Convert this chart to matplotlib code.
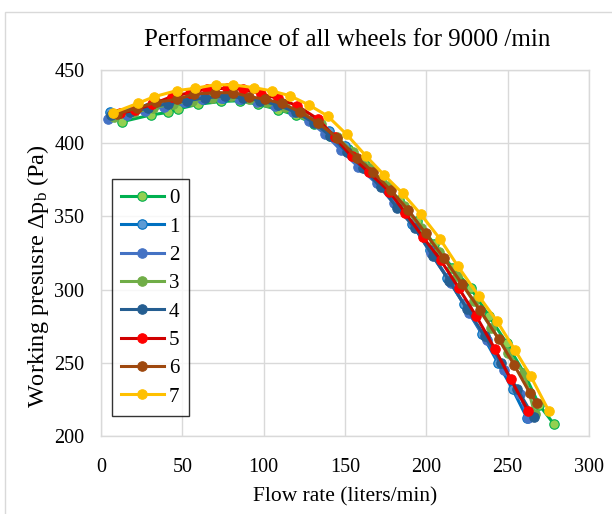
import matplotlib
matplotlib.use("Agg")
import matplotlib.pyplot as plt
from matplotlib.patches import Rectangle

labels = ["0", "1", "2", "3", "4", "5", "6", "7"]

x0 = [13, 30.7, 41, 47.5, 59.4, 73.5, 85.4, 96.7, 109, 120, 131, 141, 152, 162, 172, 183, 194, 205, 216, 227.2, 238.5, 249.3, 260, 269.4, 278.4]
y0 = [414.7, 419.3, 421, 423.4, 426.5, 428.5, 429, 426.5, 423, 419, 413, 405, 396, 385, 374, 361, 347, 331, 315, 301, 282, 263.5, 243.2, 221.2, 208.2]

x1 = [5.5, 17, 28, 40, 52, 63, 75, 86, 97, 108, 119, 130, 140, 150, 160, 170, 181, 191, 202, 213, 223, 234, 244, 253, 262]
y1 = [421, 422, 424, 426, 428, 430, 431, 430.5, 429, 426, 422, 416, 408, 398, 386, 374, 360, 345, 327, 308, 290, 270, 250, 232, 212]

x2 = [4.5, 16, 27, 39, 51, 62, 74, 85, 96, 107, 118, 128, 138, 147.3, 158, 169.4, 180, 191.6, 202.6, 215.4, 226.5, 237, 247.7, 257.5, 262.3]
y2 = [416.5, 419, 422, 425, 428, 430, 431, 430, 428, 425.5, 421.5, 415, 406, 395.4, 384, 372.6, 359, 345.3, 324.8, 304.3, 283.8, 265.6, 245, 229, 212.1]

x3 = [8, 20, 32, 44, 56, 68, 80, 91, 102, 113, 124, 135, 145, 155, 165, 176, 186, 197, 208, 219, 229, 240, 250, 260, 266.7]
y3 = [418, 421, 424, 427, 429, 431, 432, 430, 428, 425, 420, 413, 404, 394, 383, 371, 357, 342, 326, 309, 292, 274, 257, 243, 215]

x4 = [6, 18, 29, 41, 53, 64, 76, 87, 98, 109, 120, 131, 141, 151, 161, 172, 182, 193, 204, 214, 225, 236, 246, 256, 266]
y4 = [419, 421, 424, 427, 429, 431, 432, 431, 429, 426, 421, 414, 405, 394, 383, 370, 356, 342, 323, 306, 287, 268, 250, 232, 212.8]

x5 = [11.7, 20.9, 31.2, 43.4, 54.7, 65, 77.3, 87.5, 98.5, 109, 120.6, 133.6, 143.8, 154, 164.5, 177.2, 187, 198, 208.8, 220, 230.5, 242.2, 251.8, 262.4]
y5 = [420.4, 422.7, 426.5, 431.8, 434.5, 437, 437.5, 437, 433.5, 430.6, 425.6, 416.3, 404, 391, 380.2, 367, 352.5, 335.7, 320.2, 300.9, 282.2, 259.4, 238.9, 217.3]

x6 = [10, 22, 34, 46.9, 57.2, 70, 81.3, 91.2, 101, 111, 122.3, 133.6, 145.2, 157.6, 167, 178, 188.9, 199.5, 210.8, 222.1, 233, 244.6, 254, 263.5, 267.8]
y6 = [420, 424, 428, 430, 433.6, 434.5, 434.5, 431.8, 430, 427.2, 421.5, 413.6, 403.8, 389.7, 380.6, 368, 354.4, 338.4, 321.5, 303.6, 286, 266, 248.5, 229.6, 222.7]

x7 = [7.6, 22.5, 32.8, 46.5, 57.8, 70.5, 81.3, 94, 105, 116.2, 128, 139.3, 151, 162.7, 174, 185.4, 196.5, 208.4, 219.2, 232.1, 243.4, 254.5, 264.1, 275.2]
y7 = [420.8, 427.2, 431.8, 435.9, 437.5, 440, 439.8, 438, 435.7, 432.4, 426, 418.6, 406, 391.5, 378.3, 365.8, 351.6, 334.6, 316.3, 295.8, 278.5, 258.7, 241, 217.3]

xs = [x0, x1, x2, x3, x4, x5, x6, x7]
ys = [y0, y1, y2, y3, y4, y5, y6, y7]

line_colors = ["#00B050", "#0070C0", "#4472C4", "#70AD47", "#255E91", "#D00000", "#9E480E", "#FFC000"]
face_colors = ["#92D050", "#5B9BD5", "#4472C4", "#70AD47", "#255E91", "#FF0000", "#9E480E", "#FFC000"]
edge_colors = ["#00B050", "#0070C0", "#4472C4", "#70AD47", "#255E91", "#FF0000", "#9E480E", "#FFC000"]

plt.rcParams['font.family'] = ['Liberation Serif', 'DejaVu Serif']
plt.rcParams['mathtext.fontset'] = 'custom'
plt.rcParams['mathtext.rm'] = 'Liberation Serif'
plt.rcParams['mathtext.it'] = 'Liberation Serif:italic'

fig = plt.figure(figsize=(6.12, 5.14), dpi=100)
fig.patches.append(Rectangle((5/612, -0.1), 1.2, 1 - 12/514 + 0.1, transform=fig.transFigure,
                             fill=False, edgecolor="#D9D9D9", linewidth=1))
ax = fig.add_axes([101/612, 1 - 436/514, 488/612, 366/514])

for x, y, lc, fc, ec, lab in zip(xs, ys, line_colors, face_colors, edge_colors, labels):
    ax.plot(x, y, color=lc, linewidth=2.2, marker='o', markersize=6.8,
            markerfacecolor=fc, markeredgecolor=ec, markeredgewidth=0.8, label=lab)

ax.set_xlim(0, 300)
ax.set_ylim(200, 450)
ax.set_xticks(range(0, 301, 50))
ax.set_yticks(range(200, 451, 50))
ax.grid(True, color="#D9D9D9", linewidth=1)
ax.set_axisbelow(True)
for s in ax.spines.values():
    s.set_color("#D9D9D9")
    s.set_linewidth(1)
ax.tick_params(axis='y', length=0, labelsize=14.5, pad=12)
ax.tick_params(axis='x', length=0, labelsize=14.5, pad=16)

fig.text(347/612, 1 - 40/514, "Performance of all wheels for 9000 /min", fontsize=18,
         ha='center', va='center')
fig.text(345/612, 1 - 497/514, "Flow rate (liters/min)", fontsize=15.5,
         ha='center', va='center')
fig.text(38/612, 1 - 276/514, r"Working presusre $\Delta\mathrm{p_b}$ (Pa)", fontsize=17.5,
         ha='center', va='center', rotation=90)

leg = ax.legend(loc='upper left', bbox_to_anchor=(0.022, 0.701), borderaxespad=0,
                fontsize=15, frameon=True, fancybox=False, edgecolor='black',
                handlelength=2.05, labelspacing=0.42, handletextpad=0.25, borderpad=0.45)
leg.get_frame().set_linewidth(1)

fig.savefig("out.png", dpi=100)
